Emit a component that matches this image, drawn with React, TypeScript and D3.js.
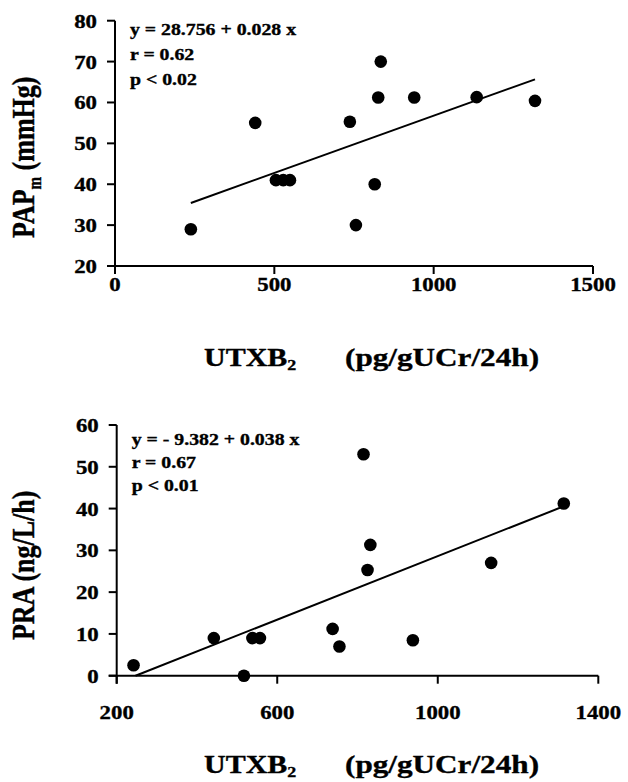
import React from 'react';
import * as d3 from 'd3';

// UTXB2 (pg/gUCr/24h)
const topX = [238, 440, 505, 528, 549, 737, 756, 815, 826, 834, 939, 1135, 1318];
const papm = [29, 55, 41, 41, 41, 55.3, 30, 40, 61.2, 70, 61.2, 61.3, 60.4];

const botX = [242, 442, 517, 538, 557, 738, 755, 815, 825, 832, 938, 1133, 1314];
const pra = [2.5, 9, 0, 9, 9, 11.2, 7, 53, 25.3, 31.3, 8.5, 27, 41.2];

const topXTicks = [0, 500, 1000, 1500];
const topYTicks = [20, 30, 40, 50, 60, 70, 80];
const botXTicks = [200, 600, 1000, 1400];
const botYTicks = [0, 10, 20, 30, 40, 50, 60];

const topStats = ['y = 28.756 + 0.028 x', 'r = 0.62', 'p < 0.02'];
const botStats = ['y = - 9.382 + 0.038 x', 'r = 0.67', 'p < 0.01'];

const FONT = '"Liberation Serif", "Times New Roman", serif';
const SX = 1.2; // the scan is a bit wide, stretch text to match

function Txt({ x, y, size, anchor = 'start', rotate = false, children }) {
  return (
    <text
      transform={`translate(${x},${y}) scale(${SX},1)${rotate ? ' rotate(-90)' : ''}`}
      fontFamily={FONT}
      fontWeight="bold"
      fontSize={size}
      textAnchor={anchor}
      fill="#000"
      stroke="#000"
      strokeWidth={0.35}
    >
      {children}
    </text>
  );
}

function Panel({ xs, ys, xDomain, yDomain, xTicks, yTicks, box, coef, stats, statsY, statsGap, yTitle, yTitleSub, yTitleRest, yTitleStart, xLabelY, xTitleY }) {
  const x = d3.scaleLinear().domain(xDomain).range([box.left, box.right]);
  const y = d3.scaleLinear().domain(yDomain).range([box.bottom, box.top]);
  const tick = 8;

  // fitted line over the data range, not below the y-axis floor
  const lo = Math.max(d3.min(xs), (yDomain[0] - coef[0]) / coef[1]);
  const hi = d3.max(xs);
  const line = d3.line().x((d) => x(d)).y((d) => y(coef[0] + coef[1] * d));

  return (
    <g>
      {/* axes */}
      <line x1={x(xDomain[0])} x2={x(xDomain[0])} y1={y(yDomain[1])} y2={y(yDomain[0]) + tick} stroke="#000" strokeWidth={2} />
      <line x1={x(xDomain[0]) - tick} x2={x(xDomain[1])} y1={y(yDomain[0])} y2={y(yDomain[0])} stroke="#000" strokeWidth={2} />
      {yTicks.map((t) => (
        <g key={'y' + t}>
          <line x1={x(xDomain[0]) - tick} x2={x(xDomain[0])} y1={y(t)} y2={y(t)} stroke="#000" strokeWidth={2} />
          <Txt x={x(xDomain[0]) - 18} y={y(t) + 7} size={19} anchor="end">{t}</Txt>
        </g>
      ))}
      {xTicks.map((t) => (
        <g key={'x' + t}>
          <line x1={x(t)} x2={x(t)} y1={y(yDomain[0])} y2={y(yDomain[0]) + tick} stroke="#000" strokeWidth={2} />
          <Txt x={x(t)} y={xLabelY} size={19} anchor="middle">{t}</Txt>
        </g>
      ))}

      {/* regression line */}
      <path d={line([lo, hi])} fill="none" stroke="#000" strokeWidth={2} />

      {/* points */}
      {xs.map((v, i) => (
        <circle key={i} cx={x(v)} cy={y(ys[i])} r={6.3} fill="#000" />
      ))}

      {/* stats */}
      {stats.map((s, i) => (
        <Txt key={s} x={box.left + 15} y={statsY + i * statsGap} size={16.5}>{s}</Txt>
      ))}

      {/* titles */}
      <Txt x={34} y={yTitleStart} size={26} rotate>
        {yTitle}
        {yTitleSub && <tspan fontSize={15} dy={6}>{yTitleSub}</tspan>}
        {yTitleRest && <tspan dy={-6}>{yTitleRest}</tspan>}
      </Txt>
      <Txt x={204} y={xTitleY} size={25}>
        UTXB<tspan fontSize={15} dy={4}>2</tspan>
      </Txt>
      <Txt x={345} y={xTitleY} size={26}>(pg/gUCr/24h)</Txt>
    </g>
  );
}

export default function App() {
  return (
    <svg width={628} height={782} style={{ position: 'absolute', left: 0, top: 0, background: '#fff' }}>
      <rect width={628} height={782} fill="#fff" />
      <Panel
        xs={topX}
        ys={papm}
        xDomain={[0, 1500]}
        yDomain={[20, 80]}
        xTicks={topXTicks}
        yTicks={topYTicks}
        box={{ left: 115, right: 593, top: 20.7, bottom: 266 }}
        coef={[28.756, 0.028]}
        stats={topStats}
        statsY={35}
        statsGap={25}
        yTitle="PAP"
        yTitleSub="m"
        yTitleRest=" (mmHg)"
        yTitleStart={238}
        xLabelY={291}
        xTitleY={366}
      />
      <Panel
        xs={botX}
        ys={pra}
        xDomain={[200, 1400]}
        yDomain={[0, 60]}
        xTicks={botXTicks}
        yTicks={botYTicks}
        box={{ left: 116.7, right: 598.3, top: 425, bottom: 675.7 }}
        coef={[-9.382, 0.038]}
        stats={botStats}
        statsY={445}
        statsGap={23}
        yTitle="PRA (ng/L/h)"
        yTitleStart={640}
        xLabelY={719}
        xTitleY={773}
      />
    </svg>
  );
}
